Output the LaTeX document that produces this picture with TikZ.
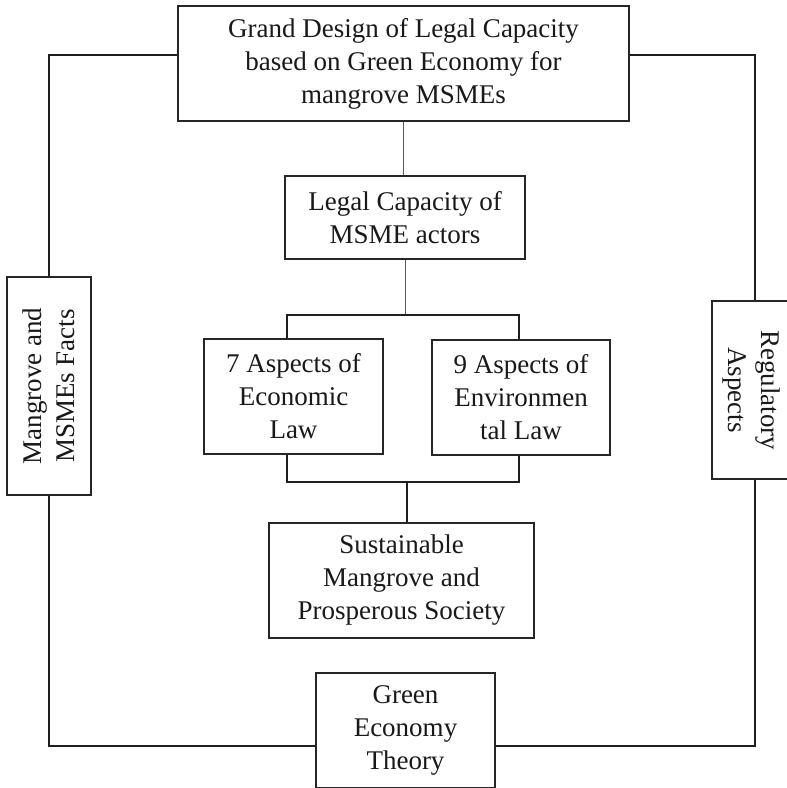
\documentclass[tikz,border=0pt]{standalone}
\usepackage{fontspec}
\setmainfont{Liberation Serif}
\begin{document}
\begin{tikzpicture}[x=1pt,y=-1pt,
  box/.style={draw=black!85, line width=1.3pt, fill=white, inner sep=0pt},
  txt/.style={align=center, font=\fontsize{27}{33}\selectfont, inner sep=0pt, text=black!90},
  frame/.style={draw=black!88, line width=2pt},
  thinline/.style={draw=black!65, line width=1pt}]
\useasboundingbox (0,0) rectangle (787,788);
\clip (0,0) rectangle (787,788);
% boxes
\node[box, minimum width=451, minimum height=115] (T) at (403.5,63.5) {};
\node[txt] (Tt) at (T.center) {Grand Design of Legal Capacity\\based on Green Economy for\\mangrove MSMEs};
\node[box, minimum width=240, minimum height=83] (M) at (405,217.5) {};
\node[txt] (Mt) at (M.center) {Legal Capacity of\\MSME actors};
\node[box, minimum width=179, minimum height=115] (E1) at (293.5,396.5) {};
\node[txt] (E1t) at (E1.center) {7 Aspects of\\Economic\\Law};
\node[box, minimum width=178, minimum height=115] (E2) at (521,397.5) {};
\node[txt] (E2t) at (E2.center) {9 Aspects of\\Environmen\\tal Law};
\node[box, minimum width=265, minimum height=115] (S) at (401.5,580.5) {};
\node[txt] (St) at (S.center) {Sustainable\\Mangrove and\\Prosperous Society};
\node[box, minimum width=179, minimum height=115] (G) at (405.5,730.5) {};
\node[txt] (Gt) at (G.center) {Green\\Economy\\Theory};
\node[box, minimum width=84, minimum height=218] (L) at (49,386) {};
\node[txt, rotate=90] (Lt) at (L.center) {Mangrove and\\MSMEs Facts};
\node[box, minimum width=86, minimum height=178] (R) at (755,390) {};
\node[txt, rotate=-90] (Rt) at ([xshift=-4pt]R.center) {Regulatory\\Aspects};
% helper coordinates
\coordinate (btop) at (405,315);
\coordinate (bbot) at (405,482);
% outer frame
\draw[frame] (L.north) |- ([yshift=8.5pt]T.west);
\draw[frame] ([yshift=8.5pt]T.east) -| (R.north);
\draw[frame] (L.south) |- ([yshift=-15.5pt]G.west);
\draw[frame] (R.south) |- ([yshift=-15.5pt]G.east);
% central links
\draw[thinline] (T.south) -- (T.south |- M.north);
\draw[thinline] (M.south) -- (btop);
\draw[frame] ([xshift=-6.5pt]E1.north) |- (btop) -| ([xshift=-2pt]E2.north);
\draw[frame] ([xshift=-6.5pt]E1.south) |- (bbot) -| ([xshift=-2pt]E2.south);
\draw[frame] ([xshift=5.5pt]S.north) -- ([xshift=5.5pt]S.north |- bbot);
\end{tikzpicture}
\end{document}
